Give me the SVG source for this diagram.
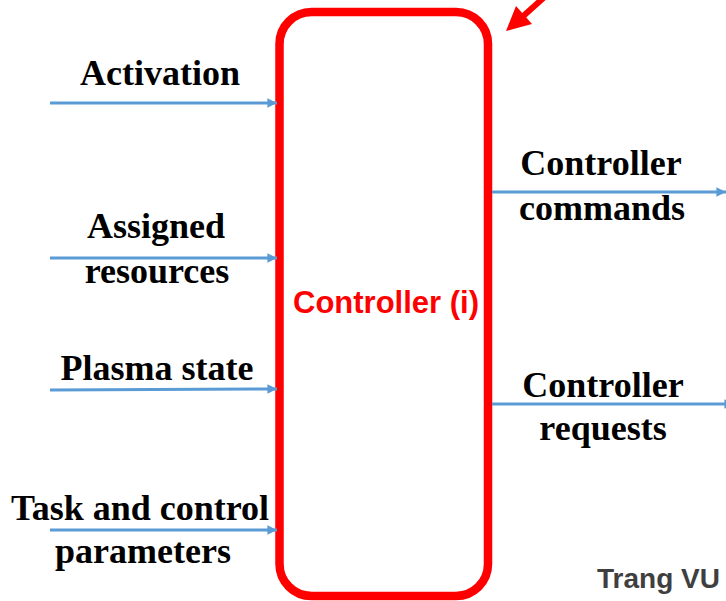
<svg xmlns="http://www.w3.org/2000/svg" width="726" height="601" viewBox="0 0 726 601">
  <style>
    .lbl { font-family: "Liberation Serif", "Times New Roman", serif; font-weight: bold; font-size: 36px; fill: #000; text-anchor: middle; }
    .flow { stroke: #5B9BD5; stroke-width: 3; fill: none; marker-end: url(#tip); }
    .ctl { font-family: "Liberation Sans", Arial, sans-serif; font-weight: bold; font-size: 31px; fill: #FF0000; text-anchor: middle; }
    .credit { font-family: "Liberation Sans", Arial, sans-serif; font-weight: bold; font-size: 28px; fill: #3F3F3F; }
  </style>
  <defs>
    <marker id="tip" viewBox="0 0 10 10" refX="10" refY="5" markerWidth="4" markerHeight="3.2" orient="auto" markerUnits="strokeWidth">
      <path d="M0,0 L10,5 L0,10 Z" fill="#5B9BD5"/>
    </marker>
  </defs>
  <rect width="726" height="601" fill="#fff"/>

  <!-- controller block -->
  <g id="controller">
    <rect x="279.5" y="12" width="208.5" height="584" rx="32" ry="32" fill="none" stroke="#FF0000" stroke-width="8.5"/>
    <text class="ctl" x="386" y="313">Controller (i)</text>
  </g>

  <!-- pointer at the top-right corner -->
  <g id="pointer">
    <line x1="550" y1="-8" x2="520" y2="19" stroke="#FF0000" stroke-width="6"/>
    <polygon points="506,31 516,6 532,24" fill="#FF0000"/>
  </g>

  <!-- inputs and outputs -->
  <g id="connectors">
    <line class="flow" x1="50" y1="103" x2="277" y2="103"/>
    <line class="flow" x1="50" y1="258" x2="277" y2="258"/>
    <line class="flow" x1="50" y1="390" x2="277" y2="389"/>
    <line class="flow" x1="50" y1="530" x2="277" y2="530"/>
    <line class="flow" x1="492" y1="192" x2="726" y2="192"/>
    <line class="flow" x1="492" y1="404" x2="734" y2="404"/>
  </g>

  <g id="in-activation">
    <text class="lbl" x="160" y="85">Activation</text>
  </g>
  <g id="in-resources">
    <text class="lbl" x="156" y="238">Assigned</text>
    <text class="lbl" x="157" y="283">resources</text>
  </g>
  <g id="in-plasma">
    <text class="lbl" x="157" y="380">Plasma state</text>
  </g>
  <g id="in-task">
    <text class="lbl" x="140" y="520">Task and control</text>
    <text class="lbl" x="143" y="563">parameters</text>
  </g>
  <g id="out-commands">
    <text class="lbl" x="601" y="175">Controller</text>
    <text class="lbl" x="602" y="220">commands</text>
  </g>
  <g id="out-requests">
    <text class="lbl" x="603" y="397">Controller</text>
    <text class="lbl" x="603" y="440">requests</text>
  </g>

  <g id="credit">
    <text class="credit" x="597" y="588">Trang VU</text>
  </g>
</svg>
